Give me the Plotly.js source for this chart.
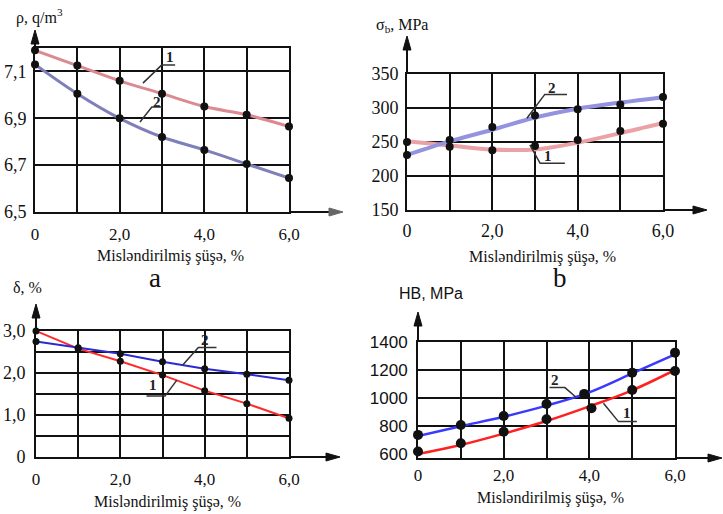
<!DOCTYPE html>
<html>
<head>
<meta charset="utf-8">
<script src="https://cdn.plot.ly/plotly-3.0.1.min.js"></script>
<style>html,body{margin:0;padding:0;background:#fff}</style>
</head>
<body>
<div id="chart" style="width:723px;height:514px"></div>
<script>
const W = 723, H = 514;
const SERIF = '"Liberation Serif", "Times New Roman", serif';
const SANS = '"Liberation Sans", Arial, sans-serif';

// Glass content, % (shared x values of all four panels)
const glassPct = [0, 1, 2, 3, 4, 5, 6];
const glassTickVals = [0, 2, 4, 6];
const glassTickText = ['0', '2,0', '4,0', '6,0'];
const glassGrid = [1, 3, 5];

// a) density, q/m3
const density1 = [7.19, 7.125, 7.06, 7.005, 6.95, 6.915, 6.865];
const density2 = [7.13, 7.005, 6.90, 6.82, 6.765, 6.705, 6.645];
const densityTickVals = [6.5, 6.7, 6.9, 7.1];
const densityTickText = ['6,5', '6,7', '6,9', '7,1'];

// b) tensile strength, MPa: smoothed curves and measured points
const strength1Fit = [251, 245, 239, 239, 249, 263, 278];
const strength1 = [250, 243, 238, 244, 253, 266, 277];
const strength2Fit = [231, 251, 268, 286, 299, 308, 316];
const strength2 = [231, 253, 272, 289, 298, 305, 316];
const strengthTicks = [150, 200, 250, 300, 350];

// c) elongation, %
const elong1 = [3.0, 2.58, 2.28, 1.95, 1.58, 1.27, 0.92];
const elong2 = [2.75, 2.6, 2.46, 2.27, 2.1, 1.97, 1.83];
const elongTickVals = [0, 1, 2, 3];
const elongTickText = ['0', '1,0', '2,0', '3,0'];
const elongGrid = [0.5, 1.5, 2.5];

// d) Brinell hardness, MPa: smoothed curves and measured points
const hard1Fit = [600, 664, 745, 835, 940, 1055, 1200];
const hard2Fit = [728, 798, 866, 945, 1040, 1175, 1312];
const hard1X = [0, 1, 2, 3, 4.05, 5, 6];
const hard1 = [617, 676, 759, 848, 926, 1057, 1193];
const hard2X = [0, 1, 2, 3, 3.88, 5, 6];
const hard2 = [736, 807, 871, 957, 1029, 1181, 1324];
const hardTicks = [600, 800, 1000, 1200, 1400];
const hardGrid = [800, 1000, 1200];

// Panel frames in pixels
const boxA = {l: 35, r: 289, t: 48, b: 212};
const boxB = {l: 407, r: 663, t: 74, b: 210};
const boxC = {l: 36, r: 289, t: 331, b: 457};
const boxD = {l: 418, r: 675, t: 342, b: 458};

const px = v => v / W;
const py = v => 1 - v / H;

const frame = {
  showline: true, linecolor: '#111', linewidth: 2, mirror: true,
  showgrid: true, gridcolor: '#111', gridwidth: 2,
  zeroline: false, ticks: '', fixedrange: true
};
const minorGrid = vals => ({tickmode: 'array', tickvals: vals, showgrid: true,
                            gridcolor: '#111', gridwidth: 2, ticks: ''});

function xAxis(box, anchor, size, standoff) {
  return Object.assign({}, frame, {
    domain: [px(box.l), px(box.r)], anchor: anchor, range: [0, 6],
    tickmode: 'array', tickvals: glassTickVals, ticktext: glassTickText,
    minor: minorGrid(glassGrid),
    tickfont: {family: SERIF, size: size, color: '#111'},
    ticklabelstandoff: standoff
  });
}
function yAxis(box, anchor, range, vals, text, font, standoff) {
  return Object.assign({}, frame, {
    domain: [py(box.b), py(box.t)], anchor: anchor, range: range,
    tickmode: 'array', tickvals: vals, ticktext: text,
    tickfont: font, ticklabelstandoff: standoff
  });
}

function curve(x, y, xa, ya, color, width, shape) {
  return {x: x, y: y, xaxis: xa, yaxis: ya, mode: 'lines', cliponaxis: false,
          line: {color: color, width: width, shape: shape || 'spline', smoothing: 1},
          hoverinfo: 'skip', showlegend: false};
}
function dots(x, y, xa, ya, size) {
  return {x: x, y: y, xaxis: xa, yaxis: ya, mode: 'markers', cliponaxis: false,
          marker: {color: '#111', size: size}, showlegend: false};
}

const data = [
  curve(glassPct, density1, 'x', 'y', '#dc8a92', 3),
  curve(glassPct, density2, 'x', 'y', '#7f7fba', 3),
  dots(glassPct, density1, 'x', 'y', 8),
  dots(glassPct, density2, 'x', 'y', 8),

  curve(glassPct, strength1Fit, 'x2', 'y2', '#eba2a6', 4),
  curve(glassPct, strength2Fit, 'x2', 'y2', '#9393e0', 4),
  dots(glassPct, strength1, 'x2', 'y2', 8),
  dots(glassPct, strength2, 'x2', 'y2', 8),

  curve(glassPct, elong1, 'x3', 'y3', '#ff2a2a', 2, 'linear'),
  curve(glassPct, elong2, 'x3', 'y3', '#2a2ad0', 2, 'linear'),
  dots(glassPct, elong1, 'x3', 'y3', 7),
  dots(glassPct, elong2, 'x3', 'y3', 7),

  curve(glassPct, hard1Fit, 'x4', 'y4', '#ff2020', 2.5),
  curve(glassPct, hard2Fit, 'x4', 'y4', '#3a3aff', 2.5),
  dots(hard1X, hard1, 'x4', 'y4', 10),
  dots(hard2X, hard2, 'x4', 'y4', 10)
];

// Axis extensions with arrowheads, past the grid frame (paper coordinates)
function arrowShapes(box, xTip, yTip, headColor) {
  const hc = headColor || '#111';
  const len = 14, half = 4;
  const xLine = {type: 'line', xref: 'paper', yref: 'paper',
                 x0: px(box.r), x1: px(xTip - len + 2), y0: py(box.b), y1: py(box.b),
                 line: {color: '#111', width: 2}};
  const xHead = {type: 'path', xref: 'paper', yref: 'paper',
                 path: 'M' + px(xTip) + ',' + py(box.b) +
                       ' L' + px(xTip - len) + ',' + py(box.b - half) +
                       ' L' + px(xTip - len) + ',' + py(box.b + half) + ' Z',
                 fillcolor: hc, line: {color: hc, width: 1}};
  const yLine = {type: 'line', xref: 'paper', yref: 'paper',
                 x0: px(box.l), x1: px(box.l), y0: py(box.t), y1: py(yTip + len - 2),
                 line: {color: '#111', width: 2}};
  const yHead = {type: 'path', xref: 'paper', yref: 'paper',
                 path: 'M' + px(box.l) + ',' + py(yTip) +
                       ' L' + px(box.l - half) + ',' + py(yTip + len) +
                       ' L' + px(box.l + half) + ',' + py(yTip + len) + ' Z',
                 fillcolor: '#111', line: {color: '#111', width: 1}};
  return [xLine, xHead, yLine, yHead];
}

function paperText(text, x, y, font, xanchor) {
  return {xref: 'paper', yref: 'paper', x: px(x), y: py(y), text: text,
          showarrow: false, xanchor: xanchor || 'center', yanchor: 'middle', font: font};
}

const serif16 = {family: SERIF, size: 16, color: '#111'};
const xTitle = 'Mislәndirilmiş şüşә, %';

// Curve numbers with their leader lines
const leaders = [
  {xa: 'x',  ya: 'y',  n: '1', tx: 3.19, ty: 7.16, pts: [[2.55, 7.05], [2.99, 7.127], [3.31, 7.127]]},
  {xa: 'x',  ya: 'y',  n: '2', tx: 2.88, ty: 6.97, pts: [[2.48, 6.884], [2.76, 6.948], [3.0, 6.948]]},
  {xa: 'x2', ya: 'y2', n: '2', tx: 3.39, ty: 330, pts: [[2.81, 285], [3.23, 320], [3.75, 320]]},
  {xa: 'x2', ya: 'y2', n: '1', tx: 3.31, ty: 230, pts: [[2.88, 245.6], [3.12, 218.7], [3.70, 218.7]]},
  {xa: 'x3', ya: 'y3', n: '2', tx: 4.01, ty: 2.79, pts: [[3.48, 2.19], [3.85, 2.61], [4.28, 2.61]]},
  {xa: 'x3', ya: 'y3', n: '1', tx: 2.77, ty: 1.71, pts: [[3.34, 1.83], [3.06, 1.45], [2.62, 1.45]]},
  {xa: 'x4', ya: 'y4', n: '2', tx: 3.2,  ty: 1129, pts: [[3.69, 1005], [3.43, 1074], [3.07, 1074]]},
  {xa: 'x4', ya: 'y4', n: '1', tx: 4.87, ty: 891,  pts: [[4.33, 962], [4.68, 831], [5.11, 831]]}
];

const shapes = [].concat(
  leaders.map(l => ({
    type: 'path', xref: l.xa, yref: l.ya,
    path: 'M' + l.pts.map(p => p[0] + ',' + p[1]).join(' L'),
    line: {color: '#333', width: 1.5}
  })),
  arrowShapes(boxA, 343, 30, '#666'),
  arrowShapes(boxB, 707, 36),
  arrowShapes(boxC, 340, 304),
  arrowShapes(boxD, 722, 312)
);

const annotations = [].concat(
  [
    paperText('ρ, q/m<sup>3</sup>', 14, 17, serif16, 'left'),
    paperText('σ<sub>b</sub>, MPa', 374, 25, serif16, 'left'),
    paperText('δ, %', 11, 287, serif16, 'left'),
    paperText('HB, MPa', 397, 293, {family: SANS, size: 16, color: '#111'}, 'left'),
    paperText(xTitle, 170, 256, serif16),
    paperText(xTitle, 542, 257, serif16),
    paperText(xTitle, 167, 502, serif16),
    paperText(xTitle, 550, 498, serif16),
    paperText('a', 155, 278, {family: SERIF, size: 27, color: '#111'}),
    paperText('b', 560, 278, {family: SERIF, size: 27, color: '#111'})
  ],
  leaders.map(l => ({
    xref: l.xa, yref: l.ya, x: l.tx, y: l.ty, text: '<b>' + l.n + '</b>',
    showarrow: false, font: {family: SERIF, size: 15, color: '#222'}
  }))
);

const yFontSerif = {family: SERIF, size: 18, color: '#111'};

const layout = {
  width: W, height: H,
  margin: {l: 0, r: 0, t: 0, b: 0},
  paper_bgcolor: '#fff', plot_bgcolor: 'rgba(0,0,0,0)',
  showlegend: false,
  xaxis: xAxis(boxA, 'y', 17, 6),
  yaxis: yAxis(boxA, 'x', [6.5, 7.2], densityTickVals, densityTickText, yFontSerif, 3),
  xaxis2: xAxis(boxB, 'y2', 18, 3),
  yaxis2: yAxis(boxB, 'x2', [150, 350], strengthTicks, strengthTicks.map(String), yFontSerif, 3),
  xaxis3: xAxis(boxC, 'y3', 17, 6),
  yaxis3: Object.assign(
    yAxis(boxC, 'x3', [0, 3], elongTickVals, elongTickText, yFontSerif, 5),
    {minor: minorGrid(elongGrid)}
  ),
  xaxis4: xAxis(boxD, 'y4', 17, 1),
  yaxis4: Object.assign(
    yAxis(boxD, 'x4', [571, 1400], hardTicks, hardTicks.map(String), {family: SANS, size: 17, color: '#111'}, 5),
    {showgrid: false, minor: minorGrid(hardGrid)}
  ),
  shapes: shapes,
  annotations: annotations
};

Plotly.newPlot('chart', data, layout, {staticPlot: true, displayModeBar: false});
</script>
</body>
</html>
